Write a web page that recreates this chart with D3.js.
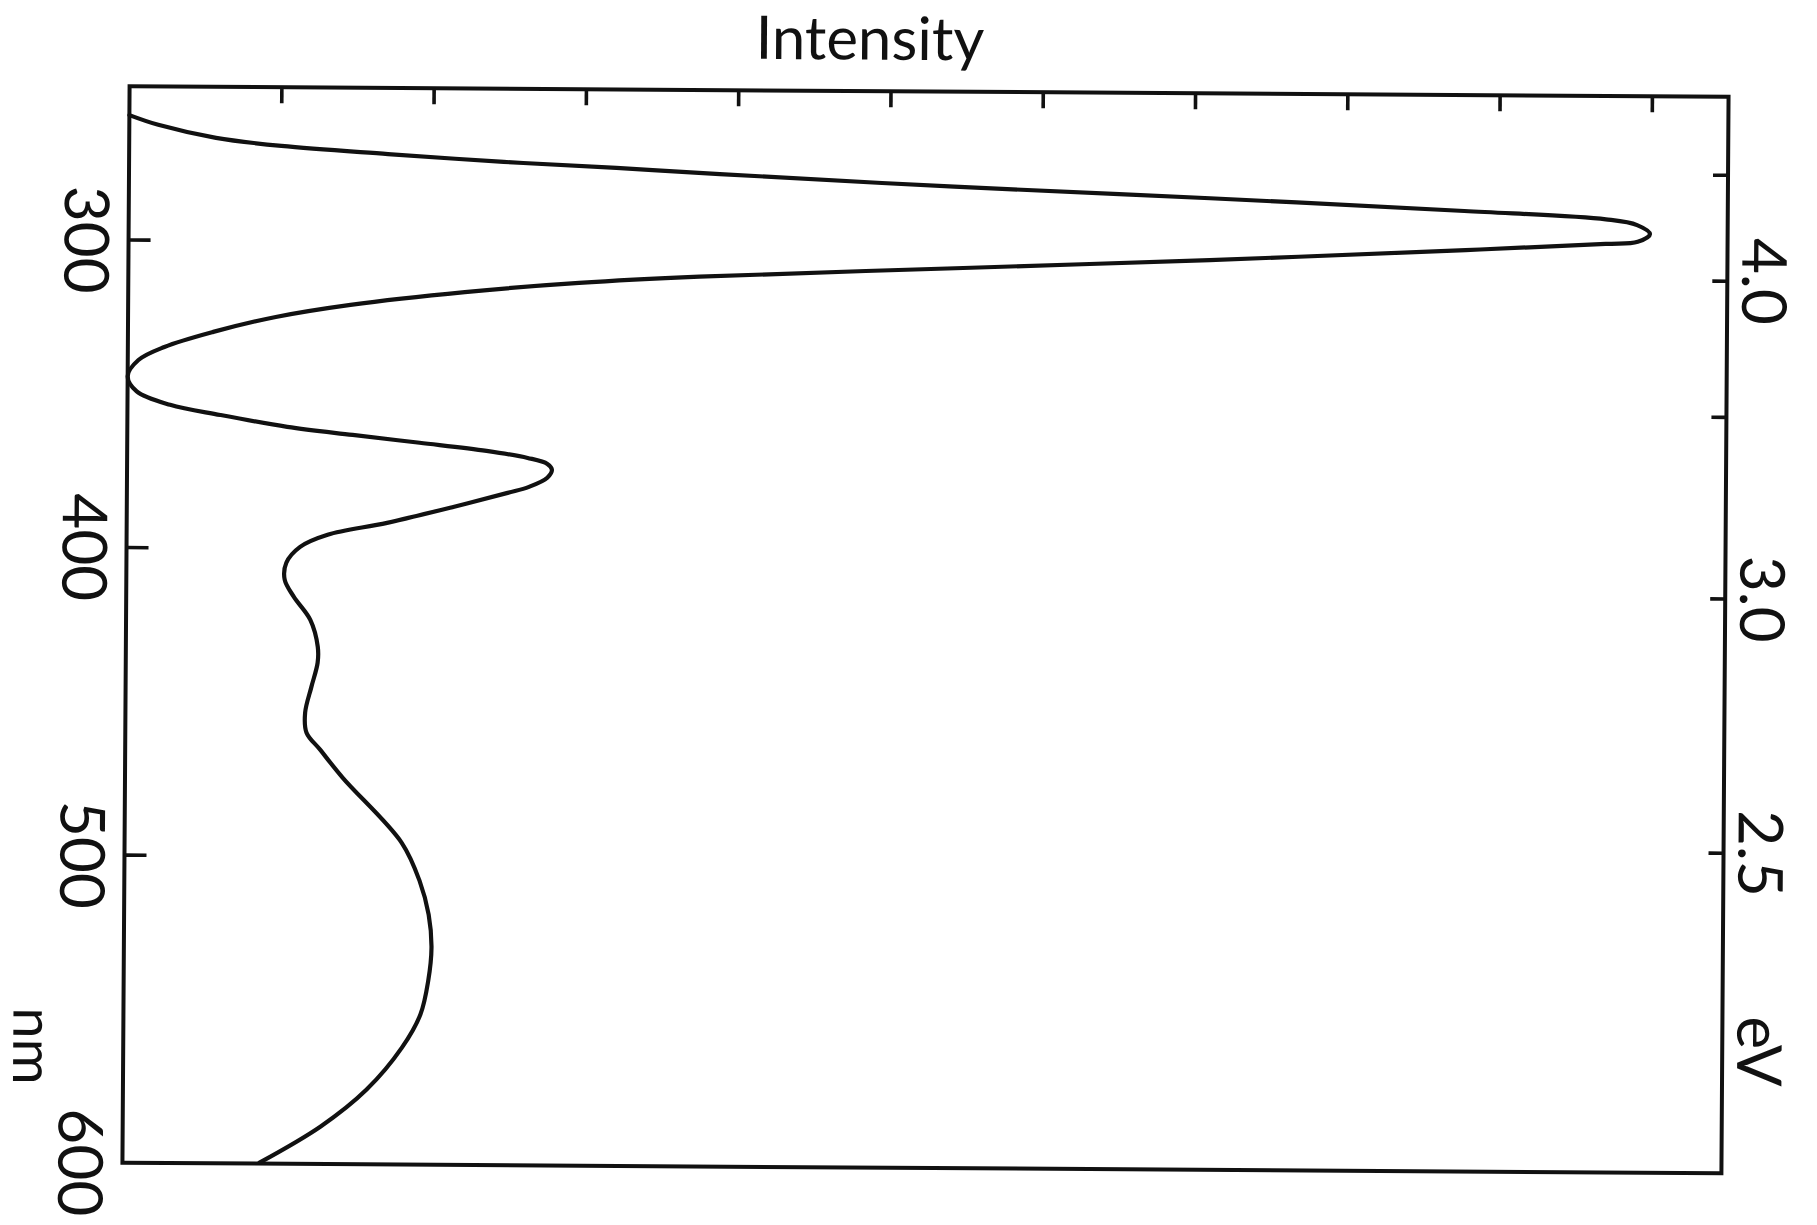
<!DOCTYPE html>
<html>
<head>
<meta charset="utf-8">
<script src="https://cdn.jsdelivr.net/npm/d3@7"></script>
<style>
  html, body { margin: 0; padding: 0; background: #fff; }
  svg { display: block; }
  text { font-family: Lato, "DejaVu Sans", sans-serif; fill: #111; }
</style>
</head>
<body>
<svg id="chart" width="1817" height="1225"></svg>
<script>
// ---- data ----
const wavelengthNm = [259.4, 262.5, 266.6, 269.1, 271.5, 273.8, 275.5, 277.3, 280.9, 284.1, 287.7, 290.1, 291.9, 294.8, 297.3, 298.1, 300.4, 304.2, 307.4, 310.7, 313.0, 316.2, 320.6, 324.7, 329.7, 334.7, 339.0, 344.3, 349.2, 353.5, 356.7, 360.4, 362.9, 365.3, 367.8, 370.0, 371.9, 373.8, 376.4, 379.4, 381.4, 386.0, 391.4, 395.4, 399.4, 404.6, 410.1, 415.6, 423.1, 431.8, 437.0, 444.9, 453.3, 459.8, 465.3, 474.4, 495.4, 507.9, 518.7, 529.4, 540.2, 551.2, 562.0, 575.7, 587.8, 599.7];
const intensity = [0, 0.19, 0.57, 1.00, 1.70, 2.46, 3.20, 3.88, 5.42, 7.10, 8.77, 9.70, 9.905, 9.99, 9.91, 9.70, 8.78, 7.10, 5.43, 3.75, 2.96, 2.21, 1.46, 0.97, 0.56, 0.24, 0.07, 0, 0.06, 0.28, 0.61, 1.05, 1.48, 1.92, 2.36, 2.63, 2.76, 2.79, 2.76, 2.64, 2.50, 2.15, 1.71, 1.32, 1.14, 1.05, 1.04, 1.10, 1.21, 1.26, 1.26, 1.22, 1.18, 1.19, 1.28, 1.43, 1.82, 1.94, 2.00, 2.02, 2.00, 1.95, 1.83, 1.60, 1.30, 0.90];
const intensityTicks = [1, 2, 3, 4, 5, 6, 7, 8, 9, 10];
const nmTicks = [300, 400, 500, 600];
const nmTickLabels = ["300", "400", "500", "600"];
const evTicks = [4.5, 4.0, 3.5, 3.0, 2.5];
const evLabelValues = [4.0, 3.0, 2.5];
const evTickLabels = ["4.0", "3.0", "2.5"];
const HC = 1239.84; // eV*nm

// ---- layout ----
const svg = d3.select("#chart");
const g = svg.append("g").attr("transform", "rotate(0.38 926 629)");

const x = d3.scaleLinear().domain([0, 10.5]).range([126, 1725]);
const y = d3.scaleLinear().domain([250, 600]).range([91.5, 1168]);
const [x0, x1] = x.range();
const [y0, y1] = y.range();
const ink = "#111";
const fs = 62;

// frame
g.append("rect")
  .attr("x", x0).attr("y", y0)
  .attr("width", x1 - x0).attr("height", y1 - y0)
  .attr("fill", "none").attr("stroke", ink).attr("stroke-width", 4);

// top ticks (intensity)
g.selectAll(".tt").data(intensityTicks).join("line")
  .attr("x1", d => x(d)).attr("x2", d => x(d))
  .attr("y1", y0).attr("y2", y0 + 16)
  .attr("stroke", ink).attr("stroke-width", 3.6);

// left ticks (nm)
g.selectAll(".lt").data(nmTicks.filter(d => d < 600)).join("line")
  .attr("x1", x0).attr("x2", x0 + 22)
  .attr("y1", d => y(d)).attr("y2", d => y(d))
  .attr("stroke", ink).attr("stroke-width", 3.6);

// right ticks (eV)
g.selectAll(".rt").data(evTicks).join("line")
  .attr("x1", x1 - 15).attr("x2", x1)
  .attr("y1", d => y(HC / d)).attr("y2", d => y(HC / d))
  .attr("stroke", ink).attr("stroke-width", 3.6);

// left labels (rotated)
g.selectAll(".ll").data(nmTicks).join("text")
  .attr("transform", d => `translate(62,${y(d)}) rotate(90)`)
  .attr("text-anchor", "middle")
  .attr("font-size", fs)
  .text((d, i) => nmTickLabels[i]);

// right labels (rotated)
g.selectAll(".rl").data(evLabelValues).join("text")
  .attr("transform", d => `translate(1740,${y(HC / d)}) rotate(90)`)
  .attr("text-anchor", "middle")
  .attr("font-size", fs)
  .text((d, i) => evTickLabels[i]);

// axis titles
g.append("text")
  .attr("transform", "translate(16,1052) rotate(90)")
  .attr("text-anchor", "middle").attr("font-size", 56).text("nm");
g.append("text")
  .attr("transform", "translate(1740,1046) rotate(90)")
  .attr("text-anchor", "middle").attr("font-size", fs).text("eV");
g.append("text")
  .attr("x", 866).attr("y", 60)
  .attr("text-anchor", "middle").attr("font-size", 60).text("Intensity");

// spectrum curve
const pts = wavelengthNm.map((w, i) => [intensity[i], w]);
const line = d3.line()
  .x(d => x(d[0])).y(d => y(d[1]))
  .curve(d3.curveCatmullRom.alpha(0.5));
g.append("path")
  .attr("d", line(pts))
  .attr("fill", "none").attr("stroke", ink)
  .attr("stroke-width", 4.2).attr("stroke-linejoin", "round").attr("stroke-linecap", "round");
</script>
</body>
</html>
